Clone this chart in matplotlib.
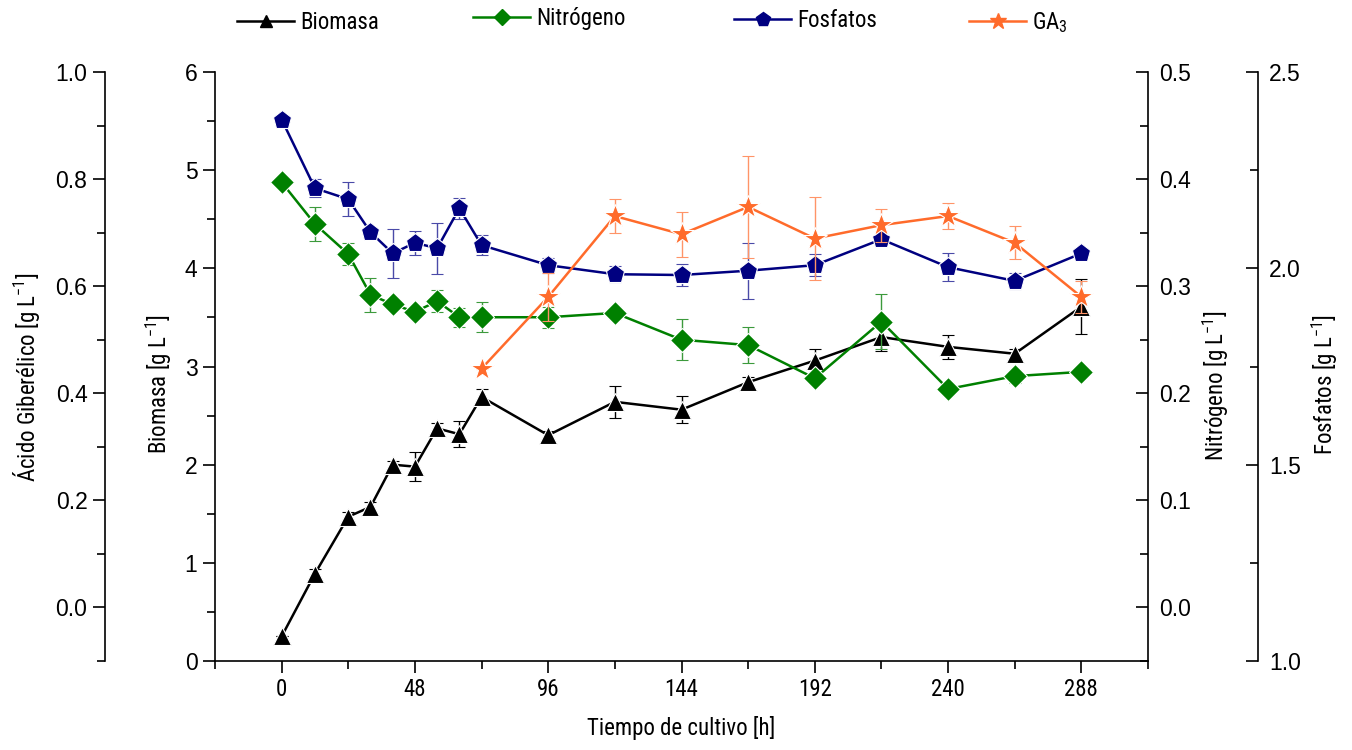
import matplotlib
matplotlib.use('Agg')
import matplotlib.pyplot as plt
from matplotlib import font_manager
from matplotlib.font_manager import FontProperties
from matplotlib.lines import Line2D
from matplotlib.ticker import MultipleLocator, FormatStrFormatter

# tiempo de muestreo [h]
tiempo = [0, 12, 24, 32, 40, 48, 56, 64, 72, 96, 120, 144, 168, 192, 216, 240, 264, 288]

# biomasa [g/L]
biomasa = [0.25, 0.89, 1.47, 1.57, 2.00, 1.98, 2.37, 2.31, 2.69, 2.30,
           2.64, 2.56, 2.84, 3.06, 3.30, 3.20, 3.13, 3.61]
biomasa_err = [0.0, 0.05, 0.05, 0.05, 0.04, 0.15, 0.05, 0.13, 0.08, 0.04,
               0.16, 0.14, 0.05, 0.12, 0.14, 0.12, 0.05, 0.28]

# nitrogeno [g/L]
nitrogeno = [0.397, 0.358, 0.330, 0.292, 0.283, 0.276, 0.286, 0.271, 0.271, 0.271,
             0.275, 0.250, 0.245, 0.214, 0.267, 0.204, 0.216, 0.220]
nitrogeno_err = [0.0, 0.016, 0.010, 0.016, 0.0, 0.004, 0.010, 0.009, 0.014, 0.010,
                 0.006, 0.019, 0.017, 0.0, 0.026, 0.006, 0.006, 0.0]

# fosfatos [g/L]
fosfatos = [2.379, 2.204, 2.176, 2.092, 2.038, 2.065, 2.051, 2.153, 2.059, 2.008,
            1.985, 1.983, 1.994, 2.008, 2.074, 2.003, 1.968, 2.038]
fosfatos_err = [0.0, 0.023, 0.043, 0.010, 0.062, 0.031, 0.065, 0.027, 0.025, 0.019,
                0.021, 0.028, 0.071, 0.028, 0.012, 0.036, 0.020, 0.0]

# acido giberelico [g/L], medido desde las 72 h
tiempo_ga = [72, 96, 120, 144, 168, 192, 216, 240, 264, 288]
ga3 = [0.446, 0.580, 0.731, 0.697, 0.748, 0.689, 0.714, 0.731, 0.681, 0.580]
ga3_err = [0.0, 0.045, 0.031, 0.042, 0.095, 0.078, 0.031, 0.024, 0.031, 0.030]

x_ticks = [0, 48, 96, 144, 192, 240, 288]

NEGRO = 'black'
VERDE = '#008000'
AZUL = '#000080'
NARANJA = '#FF6B2B'


def narrow_font(size):
    installed = {}
    for f in font_manager.fontManager.ttflist:
        installed.setdefault(f.name, set()).add(str(f.stretch))
    for name in ['Liberation Sans Narrow', 'Roboto Condensed', 'Open Sans Condensed']:
        if name in installed:
            return FontProperties(family=name, size=size)
    for name in ['DejaVu Sans', 'Noto Sans', 'Open Sans']:
        if any(s in ('condensed', 'semi-condensed', '75', '87')
               for s in installed.get(name, ())):
            return FontProperties(family=name, stretch='condensed', size=size)
    return FontProperties(family='Liberation Sans', size=size)


plt.rcParams['font.family'] = ['Liberation Sans', 'DejaVu Sans']
plt.rcParams['mathtext.fontset'] = 'custom'
plt.rcParams['mathtext.rm'] = 'Liberation Sans'

fp_label = narrow_font(16.5)
fp_tick = narrow_font(16.5)
TICK_SIZE = 16.5
MAJ, MIN = 8.6, 5.8

fig = plt.figure(figsize=(13.52, 7.5), dpi=100)
ax = fig.add_axes([215 / 1352, 89 / 750, 933 / 1352, 589 / 750])
ax_n = ax.twinx()
ax_p = ax.twinx()
ax_g = ax.twinx()

common = dict(lw=1.8, elinewidth=1.0, capsize=4.5, capthick=1.0, mec='white', mew=0.8)

ax.errorbar(tiempo, biomasa, yerr=biomasa_err, color=NEGRO, ecolor=NEGRO,
            marker='^', ms=13, **common)
ax_n.errorbar(tiempo, nitrogeno, yerr=nitrogeno_err, color=VERDE, ecolor='#3c9a3c',
              marker='D', ms=12.5, **common)
ax_p.errorbar(tiempo, fosfatos, yerr=fosfatos_err, color=AZUL, ecolor='#4a4aa8',
              marker='p', ms=14, **common)
ax_g.errorbar(tiempo_ga, ga3, yerr=ga3_err, color=NARANJA, ecolor='#ff9468',
              marker='*', ms=17.5, **common)

# eje principal: biomasa
ax.set_xlim(-24, 312)
ax.set_ylim(0, 6)
ax.set_xticks(x_ticks)
ax.xaxis.set_minor_locator(MultipleLocator(24))
ax.yaxis.set_major_locator(MultipleLocator(1))
ax.yaxis.set_minor_locator(MultipleLocator(0.5))
ax.spines['top'].set_visible(False)
ax.spines['right'].set_visible(False)
ax.tick_params(axis='x', which='major', direction='out', length=MAJ, width=1.2, pad=3.5)
ax.tick_params(axis='x', which='minor', direction='out', length=MIN, width=1.2)
ax.tick_params(axis='y', which='major', direction='out', length=MAJ, width=1.2,
               pad=4, labelsize=TICK_SIZE)
ax.tick_params(axis='y', which='minor', direction='out', length=MIN, width=1.2)
for lbl in ax.get_xticklabels():
    lbl.set_fontproperties(fp_tick)
ax.set_xlabel('Tiempo de cultivo [h]', fontproperties=fp_label)
ax.xaxis.set_label_coords(0.5, -0.093)
ax.set_ylabel('Biomasa [g L$^{\\mathregular{-1}}$]', fontproperties=fp_label)
ax.yaxis.set_label_coords(-0.044, 0.47)

# nitrogeno a la derecha
ax_n.set_ylim(-0.05, 0.5)
ax_n.yaxis.set_major_locator(MultipleLocator(0.1))
ax_n.yaxis.set_minor_locator(MultipleLocator(0.05))
ax_n.yaxis.set_major_formatter(FormatStrFormatter('%.1f'))
ax_n.tick_params(axis='y', which='major', direction='in', length=MAJ, width=1.2,
                 pad=8, labelsize=TICK_SIZE)
ax_n.tick_params(axis='y', which='minor', direction='in', length=MIN, width=1.2)
ax_n.set_ylabel('Nitrógeno [g L$^{\\mathregular{-1}}$]', fontproperties=fp_label)
ax_n.yaxis.set_label_coords(1.057, 0.467)

# fosfatos, eje desplazado
ax_p.set_ylim(1.0, 2.5)
ax_p.spines['right'].set_position(('axes', (1258 - 215) / 933))
ax_p.yaxis.set_major_locator(MultipleLocator(0.5))
ax_p.yaxis.set_minor_locator(MultipleLocator(0.25))
ax_p.yaxis.set_major_formatter(FormatStrFormatter('%.1f'))
ax_p.tick_params(axis='y', which='major', direction='in', length=MAJ, width=1.2,
                 pad=8, labelsize=TICK_SIZE)
ax_p.tick_params(axis='y', which='minor', direction='in', length=MIN, width=1.2)
ax_p.set_ylabel('Fosfatos [g L$^{\\mathregular{-1}}$]', fontproperties=fp_label)
ax_p.yaxis.set_label_coords(1.173, 0.47)

# acido giberelico a la izquierda
ax_g.set_ylim(-0.1, 1.0)
ax_g.yaxis.tick_left()
ax_g.spines['left'].set_visible(True)
ax_g.spines['left'].set_position(('axes', (105 - 215) / 933))
ax_g.spines['right'].set_visible(False)
ax_g.yaxis.set_major_locator(MultipleLocator(0.2))
ax_g.yaxis.set_minor_locator(MultipleLocator(0.1))
ax_g.yaxis.set_major_formatter(FormatStrFormatter('%.1f'))
ax_g.tick_params(axis='y', which='major', direction='out', length=MAJ, width=1.2,
                 pad=4, labelsize=TICK_SIZE)
ax_g.tick_params(axis='y', which='minor', direction='out', length=MIN, width=1.2)
ax_g.yaxis.set_label_position('left')
ax_g.set_ylabel('Ácido Giberélico [g L$^{\\mathregular{-1}}$]', fontproperties=fp_label)
ax_g.yaxis.set_label_coords(-0.185, 0.482)

for a in (ax_n, ax_p, ax_g):
    a.spines['top'].set_visible(False)
    a.spines['bottom'].set_visible(False)
for a in (ax_n, ax_p):
    a.spines['left'].set_visible(False)
for a in (ax, ax_n, ax_p, ax_g):
    for s in a.spines.values():
        s.set_linewidth(1.2)

# leyenda en una fila arriba
entradas = [
    ('Biomasa', NEGRO, '^', 8, 237, 0.970),
    ('Nitrógeno', VERDE, 'D', 8, 473, 0.975),
    ('Fosfatos', AZUL, 'p', 10, 734, 0.973),
    ('GA$_{\\mathregular{3}}$', NARANJA, '*', 12, 969, 0.970),
]
for texto, color, marca, tam, x0, y0 in entradas:
    h = Line2D([], [], color=color, marker=marca, ms=tam, lw=1.8)
    fig.legend([h], [texto], loc='center left', bbox_to_anchor=(x0 / 1352, y0),
               frameon=False, prop=fp_label, handlelength=2.5, handletextpad=0.25,
               borderpad=0, borderaxespad=0)

fig.savefig('out.png', dpi=100)
